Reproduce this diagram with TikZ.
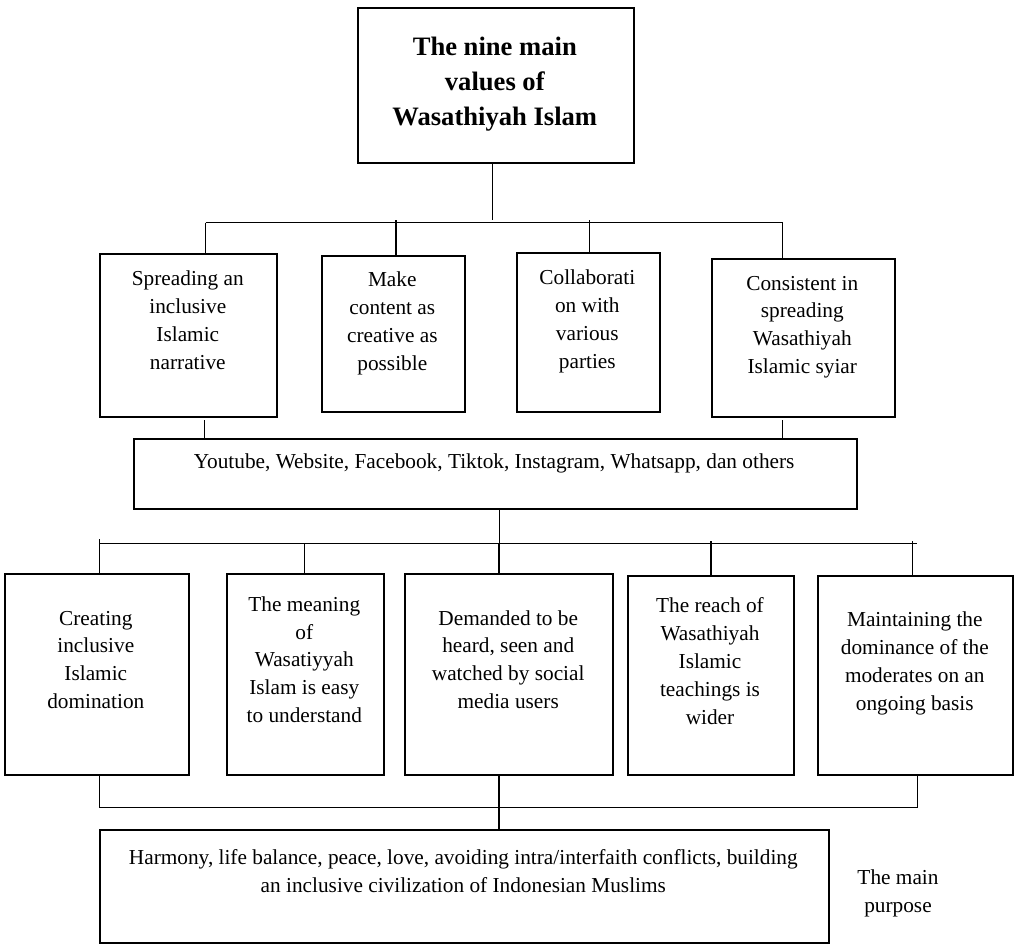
\documentclass[tikz,border=0pt]{standalone}
\usepackage{fontspec}
\setmainfont{Liberation Serif}
\begin{document}
\begin{tikzpicture}[x=1pt,y=-1pt,
  box/.style={draw, line width=1.8pt, inner sep=0pt, anchor=north west},
  txt/.style={align=center, inner sep=0pt, anchor=base, font=\fontsize{21.3}{27.9}\selectfont},
  ttl/.style={align=center, inner sep=0pt, anchor=base, font=\bfseries\fontsize{26.6}{35}\selectfont},
  con/.style={line width=1.1pt}]
\fill[white] (0,0) rectangle (1014,943);
\useasboundingbox (0,0) rectangle (1014,943);

% boxes
\node[box, minimum width=276.3pt, minimum height=155pt] (title) at (356.7,7) {};
\node[box, minimum width=177pt, minimum height=163.3pt] (b1) at (99,252.7) {};
\node[box, minimum width=143.3pt, minimum height=156pt] (b2) at (320.7,255) {};
\node[box, minimum width=143.3pt, minimum height=159pt] (b3) at (515.7,252) {};
\node[box, minimum width=183.3pt, minimum height=158.3pt] (b4) at (710.7,257.7) {};
\node[box, minimum width=723pt, minimum height=69.7pt] (media) at (132.7,438) {};
\node[box, minimum width=183.7pt, minimum height=201pt] (cA) at (4,573) {};
\node[box, minimum width=156.7pt, minimum height=201pt] (cB) at (226,573) {};
\node[box, minimum width=208.3pt, minimum height=201pt] (cC) at (404,573) {};
\node[box, minimum width=165.4pt, minimum height=198.7pt] (cD) at (627.3,575.3) {};
\node[box, minimum width=195pt, minimum height=199pt] (cE) at (817.3,575) {};
\node[box, minimum width=728.7pt, minimum height=112.5pt] (goal) at (99,829.3) {};

% texts (anchor base = baseline of the last line)
\node[ttl] (tt) at (494.8,125.5) {The nine main\\values of\\Wasathiyah Islam};
\node[txt] (t1) at (187.8,369.3) {Spreading an\\inclusive\\Islamic\\narrative};
\node[txt] (t2) at (392.3,370.3) {Make\\content as\\creative as\\possible};
\node[txt] (t3) at (587.3,368) {Collaborati\\on with\\various\\parties};
\node[txt] (t4) at (802.3,373.7) {Consistent in\\spreading\\Wasathiyah\\Islamic syiar};
\node[txt] (tm) at (494.2,468.7) {Youtube, Website, Facebook, Tiktok, Instagram, Whatsapp, dan others};
\node[txt] (tA) at (95.8,708.7) {Creating\\inclusive\\Islamic\\domination};
\node[txt] (tB) at (304.3,722.7) {The meaning\\of\\Wasatiyyah\\Islam is easy\\to understand};
\node[txt] (tC) at (508.2,708.7) {Demanded to be\\heard, seen and\\watched by social\\media users};
\node[txt] (tD) at (710,724.3) {The reach of\\Wasathiyah\\Islamic\\teachings is\\wider};
\node[txt] (tE) at (914.8,710.3) {Maintaining the\\dominance of the\\moderates on an\\ongoing basis};
\node[txt] (tg) at (463.3,892) {Harmony, life balance, peace, love, avoiding intra/interfaith conflicts, building\\an inclusive civilization of Indonesian Muslims};
\node[txt] (tp) at (898,912) {The main\\purpose};

% connector points
\coordinate (j1) at (492.7,220);
\coordinate (bus1w) at (205.7,222.5);
\coordinate (bus1e) at (782.7,222.5);
\coordinate (k2) at (396,220);
\coordinate (k3) at (589.3,220);
\coordinate (m1) at (204.7,420);
\coordinate (m4) at (782.7,420);
\coordinate (bus2m) at (499.3,543.3);
\coordinate (bus2w) at (99,543.3);
\coordinate (bus2e) at (916.7,543.3);
\coordinate (kA) at (99.3,539);
\coordinate (kB) at (304.3,543.3);
\coordinate (kC) at (499,543.3);
\coordinate (kD) at (711,541);
\coordinate (kE) at (912.3,541);
\coordinate (lA) at (99.3,807.3);
\coordinate (lE) at (917.3,807.3);

% connectors
\draw[con] (title.south -| j1) -- (j1);
\draw[con] (bus1w) -- (bus1e);
\draw[con] (bus1w) -- (bus1w |- b1.north);
\draw[con] (k2) -- (k2 |- b2.north);
\draw[con] (k3) -- (k3 |- b3.north);
\draw[con] (bus1e) -- (bus1e |- b4.north);
\draw[con] (m1) -- (m1 |- media.north);
\draw[con] (m4) -- (m4 |- media.north);
\draw[con] (bus2m |- media.south) -- (bus2m);
\draw[con] (bus2w) -- (bus2e);
\draw[con] (kA) -- (kA |- cA.north);
\draw[con] (kB) -- (kB |- cB.north);
\draw[con] (kC) -- (kC |- cC.north);
\draw[con] (kD) -- (kD |- cD.north);
\draw[con] (kE) -- (kE |- cE.north);
\draw[con] (lA |- cA.south) -- (lA) -- (lE) -- (lE |- cE.south);
\draw[con] (kC |- cC.south) -- (kC |- goal.north);
\end{tikzpicture}
\end{document}
